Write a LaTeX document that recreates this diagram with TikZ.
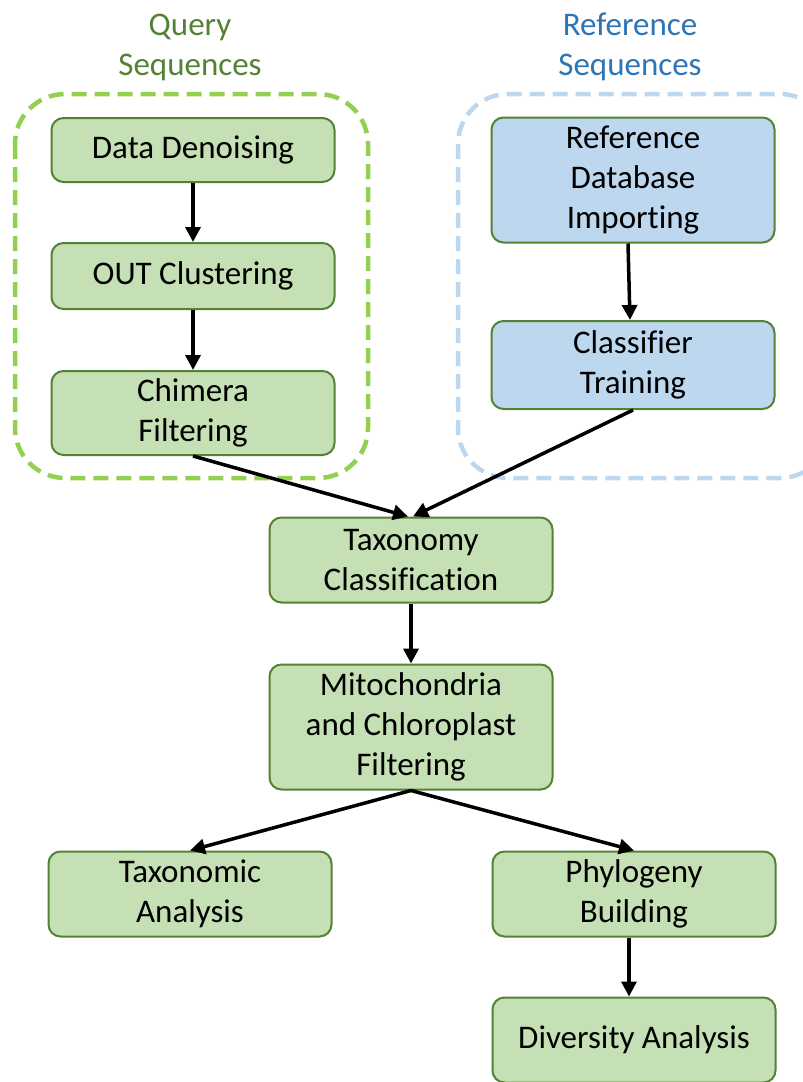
\documentclass[tikz,border=0pt]{standalone}
\usepackage{fontspec}
\setmainfont{Carlito}[Ligatures=NoCommon]
\usepackage{tikz}
\usetikzlibrary{arrows.meta, positioning}

\definecolor{boxgreen}{HTML}{C5E0B4}
\definecolor{boxblue}{HTML}{BDD7EE}
\definecolor{edgegreen}{HTML}{548235}
\definecolor{dashgreen}{HTML}{92D050}
\definecolor{dashblue}{HTML}{BDD7EE}
\definecolor{titleblue}{HTML}{2E75B6}

\begin{document}
\begin{tikzpicture}[x=1pt, y=-1pt,
    stage/.style={draw=edgegreen, line width=2pt, fill=boxgreen, rounded corners=12pt,
        minimum width=283pt, align=center, font=\fontsize{33}{40}\selectfont},
    refstage/.style={stage, fill=boxblue},
    group/.style={line width=4.5pt, dash pattern=on 15pt off 8pt, rounded corners=50pt},
    flow/.style={line width=3.5pt, -{Triangle[length=15pt, width=15pt]}},
    title/.style={align=center, font=\fontsize{33}{40}\selectfont}]

    % Fix the page size
    \useasboundingbox (0,0) rectangle (803,1082);
    \clip (0,0) rectangle (803,1082);

    % Draw the dashed groups and their titles
    \draw[group, dashgreen] (15,94) rectangle (368,478);
    \draw[group, dashblue] (458,94) rectangle (830,478);
    \node[title, text=edgegreen] (qtitle) at (190,47) {Query\\Sequences};
    \node[title, text=titleblue] (rtitle) at (630,47) {Reference\\Sequences};

    % Query branch
    \node[stage, minimum height=64pt] (denoise) at (193,150) {Data Denoising};
    \node[stage, minimum height=66pt] (otu) at (193,276) {OUT Clustering};
    \node[stage, minimum height=84pt] (chimera) at (193,413) {Chimera\\Filtering};

    % Reference branch
    \node[refstage, minimum height=125pt] (refdb) at (633,180) {Reference\\Database\\Importing};
    \node[refstage, minimum height=88pt] (classifier) at (633,365) {Classifier\\Training};

    % Shared steps
    \node[stage, minimum height=85pt] (taxonomy) at (411,560) {Taxonomy\\Classification};
    \node[stage, minimum height=125pt] (mito) at (411,727) {Mitochondria\\and Chloroplast\\Filtering};
    \node[stage, minimum height=85pt] (taxan) at (190,894) {Taxonomic\\Analysis};
    \node[stage, minimum height=85pt] (phylo) at (634,894) {Phylogeny\\Building};
    \node[stage, minimum height=85pt] (diversity) at (634,1040) {Diversity Analysis};

    % Connect the steps
    \draw[flow] (denoise) -- (otu);
    \draw[flow] (otu) -- (chimera);
    \draw[flow] (chimera.south) -- ([xshift=-3pt]taxonomy.north);
    \draw[flow] ([xshift=-5pt]refdb.south) -- ([xshift=-3pt]classifier.north);
    \draw[flow] (classifier.south) -- ([xshift=2pt]taxonomy.north);
    \draw[flow] (taxonomy) -- (mito);
    \draw[flow] (mito.south) -- (taxan.north);
    \draw[flow] (mito.south) -- (phylo.north);
    \draw[flow] ([xshift=-5pt]phylo.south) -- ([xshift=-5pt]diversity.north);

\end{tikzpicture}
\end{document}
